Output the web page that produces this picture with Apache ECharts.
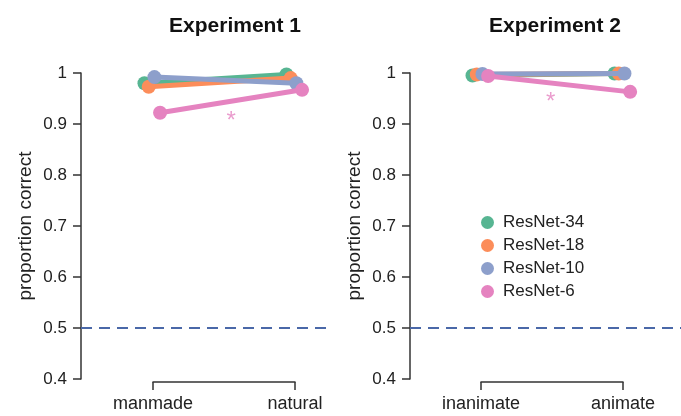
<!DOCTYPE html>
<html>
<head>
<meta charset="utf-8">
<script src="https://cdn.jsdelivr.net/npm/echarts@6/dist/echarts.min.js"></script>
<style>
  html, body { margin: 0; padding: 0; background: #fff; }
  #chart { width: 681px; height: 416px; }
</style>
</head>
<body>
<div id="chart"></div>
<script>
const models = ['ResNet-34', 'ResNet-18', 'ResNet-10', 'ResNet-6']
const colors = ['#57b592', '#fc8d5a', '#8d9fcb', '#e583c0']

const exp1Categories = ['manmade', 'natural']
const exp1Values = [
  [0.980, 0.997],
  [0.973, 0.990],
  [0.992, 0.980],
  [0.922, 0.967]
]

const exp2Categories = ['inanimate', 'animate']
const exp2Values = [
  [0.995, 0.999],
  [0.997, 0.999],
  [0.998, 0.999],
  [0.994, 0.963]
]

// small horizontal offsets so overlapping points stay visible
const jitter = [-0.06, -0.03, 0.01, 0.05]

const chance = 0.5
const yTicks = [0.4, 0.5, 0.6, 0.7, 0.8, 0.9, 1]
// significance marks (x in category units, y in proportion)
const exp1Star = [0.55, 0.905]
const exp2Star = [0.49, 0.942]

const axisColor = '#333'
const font = 'Liberation Sans, Arial, Helvetica, sans-serif'

function yAxisFor (gridIndex) {
  return {
    gridIndex,
    type: 'value',
    min: yTicks[0],
    max: yTicks[yTicks.length - 1],
    interval: 0.1,
    name: 'proportion correct',
    nameLocation: 'middle',
    nameGap: 46,
    nameTextStyle: { fontSize: 19, color: '#222', fontFamily: font },
    axisLine: { show: true, onZero: false, lineStyle: { color: axisColor, width: 1.5 } },
    axisTick: { show: true, length: 8, lineStyle: { color: axisColor, width: 1.5 } },
    axisLabel: { fontSize: 17, color: '#222', margin: 14, fontFamily: font },
    splitLine: { show: false }
  }
}

function bracketAxis (gridIndex, cats) {
  return {
    gridIndex,
    type: 'value',
    min: 0,
    max: 1,
    interval: 1,
    axisLine: { show: true, onZero: false, lineStyle: { color: axisColor, width: 1.5 } },
    axisTick: { show: true, length: 8, lineStyle: { color: axisColor, width: 1.5 } },
    axisLabel: {
      fontSize: 18, color: '#222', margin: 13, fontFamily: font,
      formatter: v => cats[Math.round(v)]
    },
    splitLine: { show: false }
  }
}

function panelSeries (values, xIndex, yIndex) {
  return values.map((row, i) => ({
    name: models[i],
    type: 'line',
    xAxisIndex: xIndex,
    yAxisIndex: yIndex,
    data: row.map((v, c) => [c + jitter[i], v]),
    symbol: 'circle',
    symbolSize: 14,
    itemStyle: { color: colors[i] },
    lineStyle: { color: colors[i], width: 5 },
    clip: false,
    silent: true,
    z: 3 + i,
    markLine: i === 0 ? {
      silent: true,
      symbol: 'none',
      label: { show: false },
      lineStyle: { type: [11, 7], color: '#4a68a8', width: 2 },
      data: [{ yAxis: chance }]
    } : undefined
  }))
}

function starSeries (pos, xIndex, yIndex) {
  return {
    type: 'scatter',
    xAxisIndex: xIndex,
    yAxisIndex: yIndex,
    data: [pos],
    symbolSize: 1,
    itemStyle: { color: 'rgba(0,0,0,0)' },
    label: {
      show: true, position: 'inside', formatter: '*',
      fontSize: 24, color: colors[3], fontFamily: font
    },
    silent: true,
    z: 10
  }
}

const chart = echarts.init(document.getElementById('chart'), null, { renderer: 'canvas' })

chart.setOption({
  animation: false,
  backgroundColor: '#fff',
  title: [
    { text: 'Experiment 1', left: 230, top: 11, textAlign: 'center',
      textStyle: { fontSize: 21, fontWeight: 'bold', color: '#111', fontFamily: font } },
    { text: 'Experiment 2', left: 550, top: 11, textAlign: 'center',
      textStyle: { fontSize: 21, fontWeight: 'bold', color: '#111', fontFamily: font } }
  ],
  legend: {
    data: models,
    orient: 'vertical',
    left: 476,
    top: 209,
    icon: 'circle',
    itemWidth: 13,
    itemHeight: 13,
    itemGap: 6,
    selectedMode: false,
    textStyle: { fontSize: 17, lineHeight: 16, color: '#222', fontFamily: font, padding: [0, 0, 0, 4] }
  },
  grid: [
    { left: 81, width: 252, top: 73, height: 306 },
    { left: 410, width: 271, top: 73, height: 306 },
    { left: 153, width: 142, top: 370, height: 12 },
    { left: 481, width: 142, top: 370, height: 12 }
  ],
  xAxis: [
    { gridIndex: 0, type: 'value', min: -0.507, max: 1.268, show: false },
    { gridIndex: 1, type: 'value', min: -0.5, max: 1.408, show: false },
    bracketAxis(2, exp1Categories),
    bracketAxis(3, exp2Categories)
  ],
  yAxis: [
    yAxisFor(0),
    yAxisFor(1),
    { gridIndex: 2, type: 'value', show: false },
    { gridIndex: 3, type: 'value', show: false }
  ],
  series: [
    ...panelSeries(exp1Values, 0, 0),
    ...panelSeries(exp2Values, 1, 1),
    starSeries(exp1Star, 0, 0),
    starSeries(exp2Star, 1, 1)
  ]
})
</script>
</body>
</html>
